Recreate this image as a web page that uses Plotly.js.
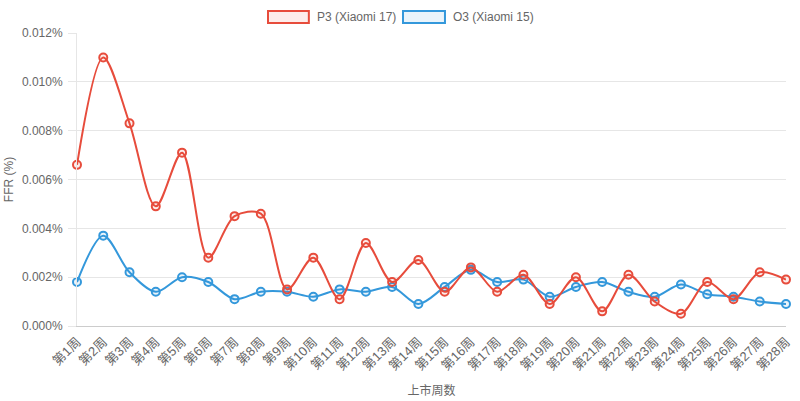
<!DOCTYPE html>
<html>
<head>
<meta charset="utf-8">
<script src="https://cdn.plot.ly/plotly-3.0.1.min.js"></script>
<style>
  html, body { margin: 0; padding: 0; background: #fff; }
  #chart { width: 800px; height: 401px; }
</style>
</head>
<body>
<div id="chart"></div>
<script>
const weeks = ['第1周','第2周','第3周','第4周','第5周','第6周','第7周','第8周','第9周','第10周',
  '第11周','第12周','第13周','第14周','第15周','第16周','第17周','第18周','第19周','第20周',
  '第21周','第22周','第23周','第24周','第25周','第26周','第27周','第28周'];

// FFR in percent
const p3Values = [0.0066, 0.0110, 0.0083, 0.0049, 0.0071, 0.0028, 0.0045, 0.0046, 0.0015, 0.0028,
  0.0011, 0.0034, 0.0018, 0.0027, 0.0014, 0.0024, 0.0014, 0.0021, 0.0009, 0.0020,
  0.0006, 0.0021, 0.0010, 0.0005, 0.0018, 0.0011, 0.0022, 0.0019];
const o3Values = [0.0018, 0.0037, 0.0022, 0.0014, 0.0020, 0.0018, 0.0011, 0.0014, 0.0014, 0.0012,
  0.0015, 0.0014, 0.0016, 0.0009, 0.0016, 0.0023, 0.0018, 0.0019, 0.0012, 0.0016,
  0.0018, 0.0014, 0.0012, 0.0017, 0.0013, 0.0012, 0.0010, 0.0009];

const seriesNames = ['P3 (Xiaomi 17)', 'O3 (Xiaomi 15)'];

const COLORS = {
  red: '#e74c3c',
  redFill: 'rgba(231,76,60,0.1)',
  blue: '#3498db',
  blueFill: 'rgba(52,152,219,0.1)',
  text: '#666666',
  grid: '#e6e6e6',
};

const FONT = 'Liberation Sans, Arial, Noto Sans CJK SC, sans-serif';

function lineTrace(name, values, color, fill) {
  return {
    type: 'scatter',
    mode: 'lines+markers',
    name: name,
    x: weeks,
    y: values,
    line: { color: color, width: 2, shape: 'spline', smoothing: 0.9 },
    marker: { symbol: 'circle', size: 8, color: fill, line: { color: color, width: 2 } },
    cliponaxis: false,
    showlegend: false,
  };
}

const traces = [
  lineTrace(seriesNames[1], o3Values, COLORS.blue, COLORS.blueFill),
  lineTrace(seriesNames[0], p3Values, COLORS.red, COLORS.redFill),
];

// legend drawn as boxes like the original
const legendShapes = [
  { type: 'rect', xref: 'paper', yref: 'paper', x0: 0.2694, x1: 0.327, y0: 1.034, y1: 1.075,
    fillcolor: COLORS.redFill, line: { color: COLORS.red, width: 2 } },
  { type: 'rect', xref: 'paper', yref: 'paper', x0: 0.4598, x1: 0.519, y0: 1.034, y1: 1.075,
    fillcolor: COLORS.blueFill, line: { color: COLORS.blue, width: 2 } },
];
const legendLabels = [
  { xref: 'paper', yref: 'paper', x: 0.3357, y: 1.0546, xanchor: 'left', yanchor: 'middle',
    text: seriesNames[0], showarrow: false, font: { size: 12, color: COLORS.text, family: FONT } },
  { xref: 'paper', yref: 'paper', x: 0.5275, y: 1.0546, xanchor: 'left', yanchor: 'middle',
    text: seriesNames[1], showarrow: false, font: { size: 12, color: COLORS.text, family: FONT } },
];

const layout = {
  width: 800,
  height: 401,
  paper_bgcolor: '#fff',
  plot_bgcolor: '#fff',
  font: { family: FONT, size: 12, color: COLORS.text },
  margin: { l: 77, r: 14, t: 33, b: 75 },
  showlegend: false,
  xaxis: {
    type: 'category',
    range: [0, weeks.length - 1],
    tickangle: -45,
    showgrid: false,
    showline: true,
    linecolor: '#cccccc',
    linewidth: 1,
    ticks: '',
    ticklabelstandoff: 2,
    tickfont: { size: 13, color: COLORS.text },
    title: { text: '上市周数', font: { size: 12, color: COLORS.text }, standoff: 14 },
    zeroline: false,
  },
  yaxis: {
    range: [0, 0.012],
    dtick: 0.002,
    tickformat: '.3f',
    ticksuffix: '%',
    gridcolor: COLORS.grid,
    showline: true,
    linecolor: COLORS.grid,
    zeroline: false,
    ticks: 'outside',
    ticklen: 8,
    tickcolor: COLORS.grid,
    ticklabelstandoff: 3,
    tickfont: { size: 12, color: COLORS.text },
    title: { text: 'FFR (%)', font: { size: 12, color: COLORS.text }, standoff: 5 },
  },
  shapes: legendShapes,
  annotations: legendLabels,
};

Plotly.newPlot('chart', traces, layout, { displayModeBar: false, staticPlot: true });
</script>
</body>
</html>
